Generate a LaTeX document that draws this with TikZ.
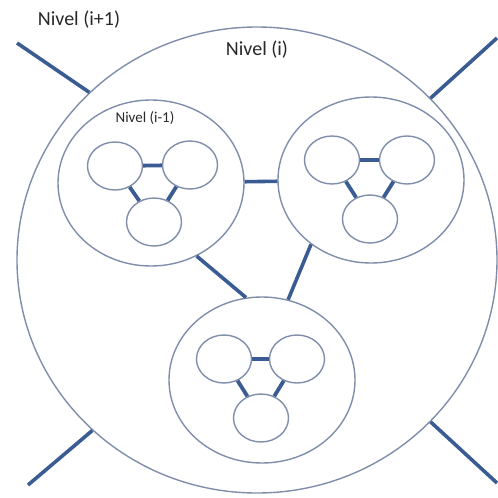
\documentclass[tikz,border=0pt]{standalone}
\usepackage{fontspec}
\setmainfont{Carlito}
\usetikzlibrary{shapes.geometric}
\definecolor{ringcol}{RGB}{128,142,172}
\definecolor{linkcol}{RGB}{58,92,146}
\definecolor{txtcol}{RGB}{40,40,40}
\tikzset{
  ring/.style={ellipse, draw=ringcol, line width=1.4pt, inner sep=0pt},
  world/.style={ring, minimum width=480pt, minimum height=466pt},
  group/.style={ring, minimum width=186pt, minimum height=166pt},
  cell/.style={ring, minimum width=55pt, minimum height=48pt},
  link/.style={draw=linkcol, line width=3.6pt},
  sublink/.style={draw=linkcol, line width=3.8pt},
  bigtxt/.style={text=txtcol, font=\fontsize{20}{22}\selectfont, inner sep=0pt},
  smalltxt/.style={text=txtcol, font=\fontsize{15}{17}\selectfont, inner sep=0pt}
}
\begin{document}
\begin{tikzpicture}[x=1pt,y=-1pt]
\useasboundingbox (0,0) rectangle (498,498);
\fill[white] (0,0) rectangle (498,498);

\node[world] (W) at (257,260) {};

\node[group] (G1) at (151,183) {};
\node[group] (G2) at (371,180) {};
\node[group] (G3) at (262,380) {};

% cells of group 1
\node[cell] (a1) at (115,166) {};
\node[cell] (a2) at (190,165) {};
\node[cell] (a3) at (154,222) {};
% cells of group 2
\node[cell] (b1) at (332,160) {};
\node[cell] (b2) at (407,160) {};
\node[cell] (b3) at (370,219) {};
% cells of group 3
\node[cell] (c1) at (224,359) {};
\node[cell] (c2) at (297,359) {};
\node[cell] (c3) at (261,418) {};

\foreach \p in {a,b,c}{
  \draw[sublink] (\p1) -- (\p2);
  \draw[sublink] (\p1) -- (\p3);
  \draw[sublink] (\p2) -- (\p3);
}

% links between groups
\draw[link] (G1) -- (G2);
\draw[link] (G1.-58) -- (G3.101);
\draw[link] (G2.-133) -- (G3.72);

% outer links
\coordinate (o1) at (17,43);
\coordinate (o2) at (497,38);
\coordinate (o3) at (28,485);
\coordinate (o4) at (497,483);
\draw[link] (W.135) -- (o1);
\draw[link] (W.43.5) -- (o2);
\draw[link] (W.-134.5) -- (o3);
\draw[link] (W.-43.7) -- (o4);

% labels
\node[bigtxt] (t1) at (79,20) {Nivel (i+1)};
\node[bigtxt] (t2) at (257,50) {Nivel (i)};
\node[smalltxt] (t3) at (145,118) {Nivel (i-1)};
\end{tikzpicture}
\end{document}
